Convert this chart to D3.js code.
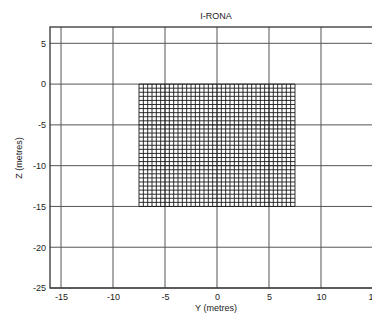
<!DOCTYPE html>
<html><head><meta charset="utf-8">
<script src="https://cdn.jsdelivr.net/npm/d3@7"></script>
<style>html,body{margin:0;padding:0;background:#fff;overflow:hidden}</style>
</head><body>
<svg id="c" width="372" height="317"></svg>
<script>
const title = "I-RONA";
const xLabel = "Y (metres)";
const yLabel = "Z (metres)";
const xTicks = [-15, -10, -5, 0, 5, 10, 15];
const yTicks = [5, 0, -5, -10, -15, -20, -25];
const xDomain = [-16.06, 16.06];
const yDomain = [-25, 7];
// mesh nodes (metres)
const meshY = d3.range(37).map(i => -7.5 + i * 15 / 36);
const meshZ = d3.range(31).map(j => 0 - j * 15 / 30);

const svg = d3.select("#c");
const x = d3.scaleLinear().domain(xDomain).range([50, 384]);
const y = d3.scaleLinear().domain(yDomain).range([288, 27]);
const font = "Liberation Sans, Arial, sans-serif";
const gridCol = "#555";
const fmt = d => String(d);

const g = svg.append("g");
g.append("rect").attr("x", x(xDomain[0])).attr("y", y(yDomain[1]))
  .attr("width", x(xDomain[1]) - x(xDomain[0])).attr("height", y(yDomain[0]) - y(yDomain[1]))
  .attr("fill", "#fff");
g.selectAll(".gx").data(xTicks).join("line")
  .attr("x1", d => x(d)).attr("x2", d => x(d))
  .attr("y1", y(yDomain[1])).attr("y2", y(yDomain[0]))
  .attr("stroke", gridCol).attr("stroke-width", 1);
g.selectAll(".gy").data(yTicks).join("line")
  .attr("y1", d => y(d)).attr("y2", d => y(d))
  .attr("x1", x(xDomain[0])).attr("x2", x(xDomain[1]))
  .attr("stroke", gridCol).attr("stroke-width", 1);

const mesh = g.append("g").attr("stroke", "#1a1a1a").attr("stroke-width", 0.9);
mesh.selectAll(".mv").data(meshY).join("line")
  .attr("x1", d => x(d)).attr("x2", d => x(d))
  .attr("y1", y(d3.max(meshZ))).attr("y2", y(d3.min(meshZ)));
mesh.selectAll(".mh").data(meshZ).join("line")
  .attr("y1", d => y(d)).attr("y2", d => y(d))
  .attr("x1", x(d3.min(meshY))).attr("x2", x(d3.max(meshY)));

g.append("rect").attr("x", x(xDomain[0])).attr("y", y(yDomain[1]))
  .attr("width", x(xDomain[1]) - x(xDomain[0])).attr("height", y(yDomain[0]) - y(yDomain[1]))
  .attr("fill", "none").attr("stroke", "#333").attr("stroke-width", 1.3);

const xa = g.append("g").attr("transform", `translate(0,${y(yDomain[0])})`)
  .call(d3.axisBottom(x).tickValues(xTicks).tickSize(0).tickPadding(6).tickFormat(fmt));
const ya = g.append("g").attr("transform", `translate(${x(xDomain[0])},0)`)
  .call(d3.axisLeft(y).tickValues(yTicks).tickSize(0).tickPadding(4).tickFormat(fmt));
[xa, ya].forEach(a => {
  a.select(".domain").remove();
  a.selectAll("text").attr("font-family", font).attr("font-size", 9).attr("fill", "#222");
});

svg.append("text").attr("x", 216).attr("y", 19).attr("text-anchor", "middle")
  .attr("font-family", font).attr("font-size", 9).attr("fill", "#222").text(title);
svg.append("text").attr("x", 216).attr("y", 311).attr("text-anchor", "middle")
  .attr("font-family", font).attr("font-size", 9).attr("fill", "#222").text(xLabel);
svg.append("text").attr("transform", `translate(22,158) rotate(-90)`).attr("text-anchor", "middle")
  .attr("font-family", font).attr("font-size", 9).attr("fill", "#222").text(yLabel);
</script>
</body></html>
